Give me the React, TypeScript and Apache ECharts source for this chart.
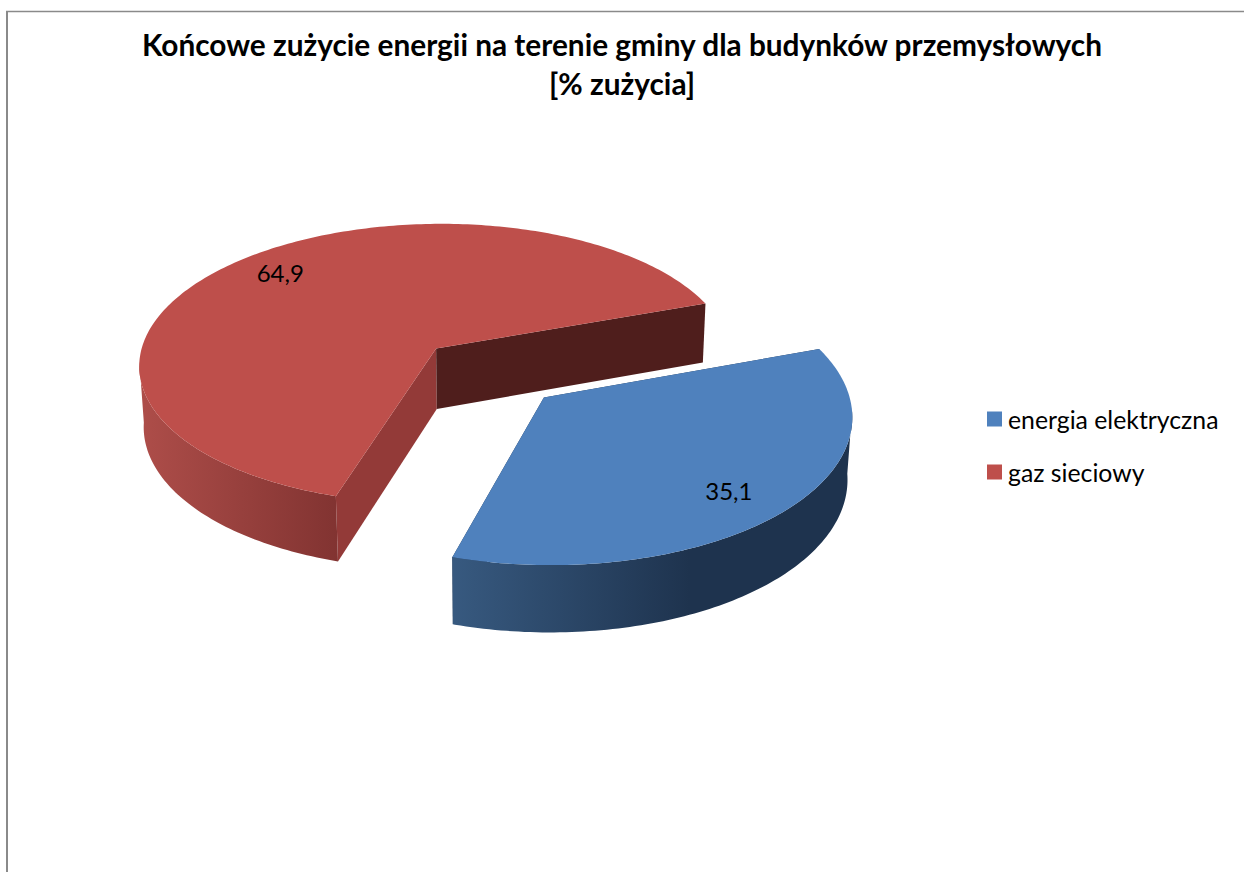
import React, { useEffect, useRef } from "react";
import * as echarts from "echarts";

// Udział nośników energii w zużyciu końcowym
const categories = ["energia elektryczna", "gaz sieciowy"];
const shares = [35.1, 64.9];
const titleLines = ["Końcowe zużycie energii na terenie gminy dla budynków przemysłowych", "[% zużycia]"];

const TEXT_FONT = "Lato, 'Open Sans', sans-serif";
const TOP_COLORS = ["#4F81BD", "#BE4F4B"];
const EDGE_COLORS = [
  ["#1E334E", "#1E334E"],
  ["#933A38", "#4F1E1C"],
];
const WALL_GRADIENTS: [number, number, string, string][] = [
  [455, 690, "#37597F", "#1E334E"],
  [143, 340, "#AD4D49", "#813331"],
];

// Perspective camera for the tilted pie, in screen pixels
const CENTER_X = 489;
const CENTER_Y = 372.5;
const SCALE = 300;
const TILT = 0.478;
const NEAR = 0.11;
const THICK = 0.235;
const THICK_SHRINK = 0.013;
const TILT_HEIGHT = 0.88;
const FIRST_ANGLE = 70.3;
const EXPLODE = 0.2475;
const LABEL_RADIUS = 0.81;
const LABEL_TURN = 2.5;
const LABEL_NUDGE_X = -3;
// Rim points nearer than this (in pie radii) have their outer wall facing the camera
const FACING = 0.08;

const rad = (d: number) => (d * Math.PI) / 180;

function project(wx: number, wy: number, lowered: boolean): [number, number] {
  const w = 1 - NEAR * wy + (lowered ? THICK_SHRINK : 0);
  const drop = lowered ? SCALE * TILT_HEIGHT * THICK : 0;
  return [CENTER_X + (SCALE * wx) / w, CENTER_Y + (SCALE * TILT * wy + drop) / w];
}

function sliceShape(index: number) {
  const total = shares.reduce((a, b) => a + b, 0);
  const before = shares.slice(0, index).reduce((a, b) => a + b, 0);
  const start = FIRST_ANGLE + (before / total) * 360;
  const end = start + (shares[index] / total) * 360;
  const midDeg = (start + end) / 2;
  const mid = rad(midDeg);
  const ox = EXPLODE * Math.sin(mid);
  const oy = -EXPLODE * Math.cos(mid);
  const rim = (deg: number, lowered: boolean) =>
    project(ox + Math.sin(rad(deg)), oy - Math.cos(rad(deg)), lowered);
  const degrees: number[] = [];
  for (let d = start; d < end; d += 1) degrees.push(d);
  degrees.push(end);
  const facing = degrees.filter((d) => -Math.cos(rad(d)) > FACING);
  const labelAngle = rad(midDeg + LABEL_TURN);
  return {
    top: degrees.map((d) => rim(d, false)),
    wallTop: facing.map((d) => rim(d, false)),
    wallLow: facing.map((d) => rim(d, true)),
    apex: project(ox, oy, false),
    apexLow: project(ox, oy, true),
    startTop: rim(start, false),
    startLow: rim(start, true),
    endTop: rim(end, false),
    endLow: rim(end, true),
    label: project(ox + LABEL_RADIUS * Math.sin(labelAngle), oy - LABEL_RADIUS * Math.cos(labelAngle), false),
  };
}

function renderSlice(index: number) {
  return () => {
    const s = sliceShape(index);
    const [gx0, gx1, c0, c1] = WALL_GRADIENTS[index];
    const wallFill = new echarts.graphic.LinearGradient(gx0, 0, gx1, 0, [
      { offset: 0, color: c0 },
      { offset: 1, color: c1 },
    ], true);
    const [startEdge, endEdge] = EDGE_COLORS[index];
    return {
      type: "group",
      children: [
        {
          type: "polygon",
          shape: { points: [s.apex, s.startTop, s.startLow, s.apexLow] },
          style: { fill: startEdge },
        },
        {
          type: "polygon",
          shape: { points: [s.apex, s.endTop, s.endLow, s.apexLow] },
          style: { fill: endEdge },
        },
        {
          type: "polygon",
          shape: { points: [...s.wallTop, ...[...s.wallLow].reverse()] },
          style: { fill: wallFill },
        },
        {
          type: "polygon",
          shape: { points: [s.apex, ...s.top] },
          style: { fill: TOP_COLORS[index] },
        },
        {
          type: "text",
          x: s.label[0] + LABEL_NUDGE_X,
          y: s.label[1],
          style: {
            text: shares[index].toFixed(1).replace(".", ","),
            fill: "#000000",
            font: `24px ${TEXT_FONT}`,
            align: "center",
            verticalAlign: "middle",
          },
        },
      ],
    };
  };
}

export default function App() {
  const ref = useRef<HTMLDivElement>(null);

  useEffect(() => {
    const chart = echarts.init(ref.current!, undefined, { renderer: "svg" });
    chart.setOption({
      animation: false,
      backgroundColor: "#ffffff",
      title: {
        text: titleLines.join("\n"),
        left: 622,
        top: 20,
        textAlign: "center",
        padding: [5, 10, 5, 0],
        textStyle: {
          fontFamily: TEXT_FONT,
          fontWeight: "bold",
          fontSize: 29.8,
          lineHeight: 39,
          color: "#000000",
        },
      },
      legend: {
        orient: "vertical",
        left: 982,
        top: 400,
        icon: "rect",
        itemWidth: 15,
        itemHeight: 15,
        itemGap: 25,
        data: categories,
        textStyle: { fontFamily: TEXT_FONT, fontSize: 24.8, color: "#000000", padding: [0, 0, 0, 1], lineHeight: 28 },
      },
      graphic: [
        { type: "line", shape: { x1: 6, y1: 11.5, x2: 1244, y2: 11.5 }, style: { stroke: "#8A8A8A", lineWidth: 1.5 } },
        { type: "line", shape: { x1: 7, y1: 11, x2: 7, y2: 872 }, style: { stroke: "#8A8A8A", lineWidth: 2 } },
      ],
      series: categories.map((name, i) => ({
        type: "custom",
        name,
        coordinateSystem: "none",
        itemStyle: { color: TOP_COLORS[i] },
        data: [[shares[i]]],
        renderItem: renderSlice(i),
      })),
    });
    return () => chart.dispose();
  }, []);

  return <div ref={ref} style={{ position: "absolute", left: 0, top: 0, width: 1244, height: 872 }} />;
}
